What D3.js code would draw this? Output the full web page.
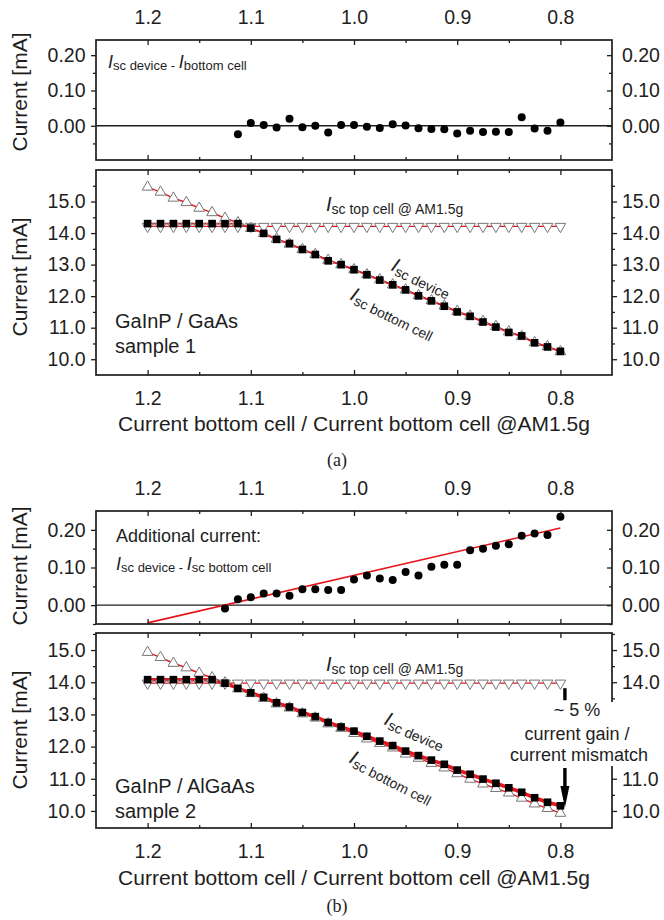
<!DOCTYPE html>
<html>
<head>
<meta charset="utf-8">
<script src="https://cdn.jsdelivr.net/npm/d3@7/dist/d3.min.js"></script>
<style>
body { margin: 0; background: #fff; }
svg { display: block; font-family: "Liberation Sans", Arial, sans-serif; }
</style>
</head>
<body>
<div class="canvas"></div>
<script>
var w = 664;
var h = 920;

// x: current bottom cell / current bottom cell @AM1.5g
var ratio = [1.2, 1.1875, 1.175, 1.1625, 1.15, 1.1375, 1.125, 1.1125, 1.1, 1.0875, 1.075,
    1.0625, 1.05, 1.0375, 1.025, 1.0125, 1.0, 0.9875, 0.975, 0.9625, 0.95, 0.9375, 0.925,
    0.9125, 0.9, 0.8875, 0.875, 0.8625, 0.85, 0.8375, 0.825, 0.8125, 0.8];
var xMajor = [1.2, 1.1, 1.0, 0.9, 0.8];
var xMinor = [1.15, 1.05, 0.95, 0.85];
var diffMajor = [0.0, 0.1, 0.2];
var diffMinor = [-0.05, 0.05, 0.15];
var currMajor = [10, 11, 12, 13, 14, 15];
var currMinor = [10.5, 11.5, 12.5, 13.5, 14.5, 15.5];
// right-hand labels of (b) that sit under the mismatch note
var hiddenRightB = [12, 13];

// (a) GaInP / GaAs sample 1
var bottomA = [15.46, 15.30, 15.11, 14.97, 14.79, 14.65, 14.47, 14.33, 14.15, 13.99, 13.81,
    13.65, 13.48, 13.32, 13.14, 13.00, 12.84, 12.68, 12.52, 12.36, 12.20, 12.02, 11.86,
    11.69, 11.52, 11.37, 11.20, 11.04, 10.87, 10.72, 10.53, 10.40, 10.24];
var topA = [14.21, 14.21, 14.21, 14.21, 14.21, 14.21, 14.21, 14.21, 14.21, 14.21, 14.21,
    14.21, 14.21, 14.21, 14.21, 14.21, 14.21, 14.21, 14.21, 14.21, 14.21, 14.21, 14.21,
    14.21, 14.21, 14.21, 14.21, 14.21, 14.21, 14.21, 14.21, 14.21, 14.21];
var deviceA = [14.30, 14.30, 14.30, 14.30, 14.30, 14.30, 14.30, 14.30, 14.16, 13.99, 13.80,
    13.67, 13.48, 13.32, 13.12, 13.00, 12.84, 12.68, 12.51, 12.36, 12.20, 12.01, 11.85,
    11.68, 11.50, 11.36, 11.18, 11.02, 10.85, 10.74, 10.52, 10.39, 10.25];
var diffRatioA = ratio.slice(7);
var diffA = [-0.024, 0.008, 0.002, -0.005, 0.020, -0.004, 0.000, -0.019, 0.002, 0.002,
    -0.003, -0.006, 0.004, 0.001, -0.007, -0.009, -0.010, -0.022, -0.014, -0.018, -0.017,
    -0.018, 0.024, -0.008, -0.014, 0.009];

// (b) GaInP / AlGaAs sample 2
var bottomB = [14.93, 14.77, 14.59, 14.45, 14.28, 14.14, 13.98, 13.80, 13.65, 13.50, 13.33,
    13.20, 13.02, 12.89, 12.71, 12.57, 12.41, 12.24, 12.10, 11.96, 11.77, 11.64, 11.48,
    11.34, 11.16, 10.99, 10.84, 10.70, 10.56, 10.40, 10.22, 10.08, 9.93];
var topB = [13.97, 13.97, 13.97, 13.97, 13.97, 13.97, 13.97, 13.97, 13.97, 13.97, 13.97,
    13.97, 13.97, 13.97, 13.97, 13.97, 13.97, 13.97, 13.97, 13.97, 13.97, 13.97, 13.97,
    13.97, 13.97, 13.97, 13.97, 13.97, 13.97, 13.97, 13.97, 13.97, 13.97];
var deviceB = [14.08, 14.08, 14.08, 14.08, 14.08, 14.08, 13.97, 13.81, 13.67, 13.53, 13.36,
    13.23, 13.06, 12.93, 12.75, 12.61, 12.48, 12.32, 12.17, 12.03, 11.86, 11.72, 11.58,
    11.45, 11.27, 11.14, 10.99, 10.86, 10.72, 10.58, 10.41, 10.27, 10.16];
var diffRatioB = ratio.slice(6);
var diffB = [-0.009, 0.016, 0.021, 0.031, 0.031, 0.025, 0.042, 0.042, 0.040, 0.040, 0.068,
    0.079, 0.071, 0.067, 0.088, 0.079, 0.102, 0.107, 0.107, 0.146, 0.150, 0.158, 0.162,
    0.184, 0.190, 0.186, 0.235];
var fitRatioB = [1.2, 0.8];
var fitB = [-0.047, 0.205];

var left = 96, right = 612;
var ink = "#1e1e1e";

var xScale = d3.scaleLinear()
    .domain([1.25, 0.75])
    .range([left, right]);

var svg = d3.select(".canvas").append("svg")
    .attr("width", w)
    .attr("height", h);

function fixText(sel, size) {
    sel.attr("font-family", null).attr("font-size", size);
    sel.selectAll(".domain").remove();
    sel.selectAll("line").attr("stroke", ink).attr("stroke-width", 1.3);
    sel.selectAll("text").attr("fill", ink);
}

function drawAxes(y, top, bottom, major, minor, fmt, o) {
    var g = svg.append("g");
    var lab = d3.format(fmt);
    var hide = o.hideRight || [];
    // left
    g.append("g").attr("transform", "translate(" + left + ",0)")
        .call(d3.axisLeft(y).tickValues(major).tickFormat(lab).tickSize(5).tickPadding(5.5).tickSizeOuter(0))
        .call(fixText, 19.5);
    g.append("g").attr("transform", "translate(" + left + ",0)")
        .call(d3.axisLeft(y).tickValues(minor).tickFormat("").tickSize(3).tickSizeOuter(0))
        .call(fixText, 19.5);
    // right
    var rs = o.rightIn ? -5 : 5;
    var rightMajor = major.filter(function (v) { return hide.indexOf(v) < 0; });
    g.append("g").attr("transform", "translate(" + right + ",0)")
        .call(d3.axisRight(y).tickValues(rightMajor).tickFormat(lab).tickSize(rs).tickPadding(o.rightIn ? 10 : 5).tickSizeOuter(0))
        .call(fixText, 19.5);
    g.append("g").attr("transform", "translate(" + right + ",0)")
        .call(d3.axisRight(y).tickValues(minor).tickFormat("").tickSize(rs * 0.6).tickSizeOuter(0))
        .call(fixText, 19.5);
    // top and bottom, ticks inside
    g.append("g").attr("transform", "translate(0," + top + ")")
        .call(d3.axisTop(xScale).tickValues(xMajor).tickFormat(o.topLabels ? d3.format(".1f") : "").tickSize(-5).tickPadding(16).tickSizeOuter(0))
        .call(fixText, 19.5);
    g.append("g").attr("transform", "translate(0," + top + ")")
        .call(d3.axisTop(xScale).tickValues(xMinor).tickFormat("").tickSize(-3).tickSizeOuter(0))
        .call(fixText, 19.5);
    g.append("g").attr("transform", "translate(0," + bottom + ")")
        .call(d3.axisBottom(xScale).tickValues(xMajor).tickFormat(o.bottomLabels ? d3.format(".1f") : "").tickSize(-5).tickPadding(16).tickSizeOuter(0))
        .call(fixText, 19.5);
    g.append("g").attr("transform", "translate(0," + bottom + ")")
        .call(d3.axisBottom(xScale).tickValues(xMinor).tickFormat("").tickSize(-3).tickSizeOuter(0))
        .call(fixText, 19.5);
    g.append("rect")
        .attr("x", left).attr("y", top)
        .attr("width", right - left).attr("height", bottom - top)
        .attr("fill", "none").attr("stroke", ink).attr("stroke-width", 1.7);
    // y title
    svg.append("text")
        .attr("transform", "translate(27," + o.titleY + ") rotate(-90)")
        .attr("text-anchor", "middle")
        .attr("font-size", 21)
        .attr("fill", ink)
        .text("Current [mA]");
}

// rich label: parts = [text, size, italic, dy]
function richText(x, y, angle, parts) {
    var t = svg.append("text")
        .attr("transform", "translate(" + x + "," + y + ") rotate(" + angle + ")")
        .attr("fill", ink);
    parts.forEach(function (p) {
        t.append("tspan")
            .attr("font-size", p[1])
            .attr("font-style", p[2] ? "italic" : "normal")
            .attr("dy", p[3])
            .text(p[0]);
    });
    return t;
}

function plainText(x, y, size, txt, anchor, family) {
    return svg.append("text")
        .attr("x", x).attr("y", y)
        .attr("font-size", size)
        .attr("text-anchor", anchor || "start")
        .attr("font-family", family || null)
        .attr("fill", ink)
        .text(txt);
}

function diffPanel(top, bottom, domain, xs, ys, fit, titleY) {
    var y = d3.scaleLinear().domain(domain).range([bottom, top]);
    svg.append("line")
        .attr("x1", left).attr("x2", right)
        .attr("y1", y(0)).attr("y2", y(0))
        .attr("stroke", ink).attr("stroke-width", 1.4);
    if (fit) {
        svg.append("line")
            .attr("x1", xScale(fit[0][0])).attr("y1", y(fit[1][0]))
            .attr("x2", xScale(fit[0][1])).attr("y2", y(fit[1][1]))
            .attr("stroke", "#e8141b").attr("stroke-width", 1.6);
    }
    svg.append("g").selectAll("circle")
        .data(d3.zip(xs, ys))
        .join("circle")
        .attr("cx", function (d) { return xScale(d[0]); })
        .attr("cy", function (d) { return y(d[1]); })
        .attr("r", 4)
        .attr("fill", "#000");
    drawAxes(y, top, bottom, diffMajor, diffMinor, ".2f", { rightIn: true, topLabels: true, titleY: titleY });
    return y;
}

function currentPanel(top, bottom, domain, bot, tc, dev, devWidth, titleY, hideRight) {
    var y = d3.scaleLinear().domain(domain).range([bottom, top]);
    var line = d3.line()
        .x(function (d) { return xScale(d[0]); })
        .y(function (d) { return y(d[1]); });
    svg.append("path").datum(d3.zip(ratio, tc)).attr("d", line)
        .attr("fill", "none").attr("stroke", "#e8141b").attr("stroke-width", 1.2);
    svg.append("path").datum(d3.zip(ratio, bot)).attr("d", line)
        .attr("fill", "none").attr("stroke", "#e8141b").attr("stroke-width", 1.4);
    svg.append("path").datum(d3.zip(ratio, dev)).attr("d", line)
        .attr("fill", "none").attr("stroke", "#e8141b").attr("stroke-width", devWidth);
    var tri = d3.symbol(d3.symbolTriangle, 50);
    svg.append("g").selectAll("path")
        .data(d3.zip(ratio, bot))
        .join("path")
        .attr("d", tri)
        .attr("transform", function (d) { return "translate(" + xScale(d[0]) + "," + y(d[1]) + ")"; })
        .attr("fill", "#fff").attr("stroke", "#777").attr("stroke-width", 1);
    svg.append("g").selectAll("path")
        .data(d3.zip(ratio, tc))
        .join("path")
        .attr("d", tri)
        .attr("transform", function (d) { return "translate(" + xScale(d[0]) + "," + y(d[1]) + ") rotate(180)"; })
        .attr("fill", "#fff").attr("stroke", "#777").attr("stroke-width", 1);
    svg.append("g").selectAll("path")
        .data(d3.zip(ratio, dev))
        .join("path")
        .attr("d", d3.symbol(d3.symbolSquare, 58))
        .attr("transform", function (d) { return "translate(" + xScale(d[0]) + "," + y(d[1]) + ")"; })
        .attr("fill", "#000");
    drawAxes(y, top, bottom, currMajor, currMinor, ".1f",
        { rightIn: false, bottomLabels: true, titleY: titleY, hideRight: hideRight });
    return y;
}

// ---------- (a) ----------
diffPanel(40, 160, [-0.097, 0.243], diffRatioA, diffA, null, 92);
richText(108, 68, 0, [["I", 18, true, 0], ["sc device", 13, false, 2], [" - ", 13, false, 0],
    ["I", 18, true, -2], ["bottom cell", 13, false, 2]]);

currentPanel(170, 375, [9.5, 16.0], bottomA, topA, deviceA, 1.8, 277);
richText(326, 211, 0, [["I", 20, true, 0], ["sc top cell @ AM1.5g", 14, false, 3]]);
richText(390, 270, 25, [["I", 20, true, 0], ["sc device", 14, false, 3]]);
richText(349, 299, 26, [["I", 20, true, 0], ["sc bottom cell", 14, false, 3]]);
plainText(115, 328, 20, "GaInP / GaAs");
plainText(115, 353, 20, "sample 1");
plainText(354, 431, 21, "Current bottom cell / Current bottom cell @AM1.5g", "middle");
plainText(337, 466, 18, "(a)", "middle", "Liberation Serif, Times New Roman, serif");

// ---------- (b) ----------
diffPanel(511, 624, [-0.05, 0.25], diffRatioB, diffB, [fitRatioB, fitB], 566);
plainText(116, 542, 18, "Additional current:");
richText(116, 570, 0, [["I", 18, true, 0], ["sc device", 13, false, 2], [" - ", 13, false, 0],
    ["I", 18, true, -2], ["sc bottom cell", 13, false, 2]]);

var yB = currentPanel(633, 828, [9.47, 15.53], bottomB, topB, deviceB, 3.5, 730, hiddenRightB);
richText(326, 671, 0, [["I", 20, true, 0], ["sc top cell @ AM1.5g", 14, false, 3]]);
richText(383, 724, 23, [["I", 20, true, 0], ["sc device", 14, false, 3]]);
richText(348, 762, 27, [["I", 20, true, 0], ["sc bottom cell", 14, false, 3]]);
plainText(115, 793, 20, "GaInP / AlGaAs");
plainText(115, 818, 20, "sample 2");
plainText(354, 885, 21, "Current bottom cell / Current bottom cell @AM1.5g", "middle");
plainText(337, 912, 18, "(b)", "middle", "Liberation Serif, Times New Roman, serif");

// mismatch annotation
var ax = xScale(0.8) + 4.5;
svg.append("rect").attr("x", 508).attr("y", 702).attr("width", 156).attr("height", 64).attr("fill", "#fff");
svg.append("line")
    .attr("x1", ax).attr("x2", ax)
    .attr("y1", yB(topB[32]) + 5).attr("y2", yB(topB[32]) + 17)
    .attr("stroke", "#000").attr("stroke-width", 3.4);
svg.append("line")
    .attr("x1", ax).attr("x2", ax)
    .attr("y1", 768).attr("y2", 790)
    .attr("stroke", "#000").attr("stroke-width", 3.4);
svg.append("path")
    .attr("d", "M" + (ax - 4.5) + ",786 L" + (ax + 4.5) + ",786 L" + ax + "," + (yB(deviceB[32]) + 2) + "Z")
    .attr("fill", "#000");
plainText(577, 716, 18, "~ 5 %", "middle");
plainText(577, 740, 18, "current gain /", "middle");
plainText(579, 761, 18, "current mismatch", "middle");
</script>
</body>
</html>
